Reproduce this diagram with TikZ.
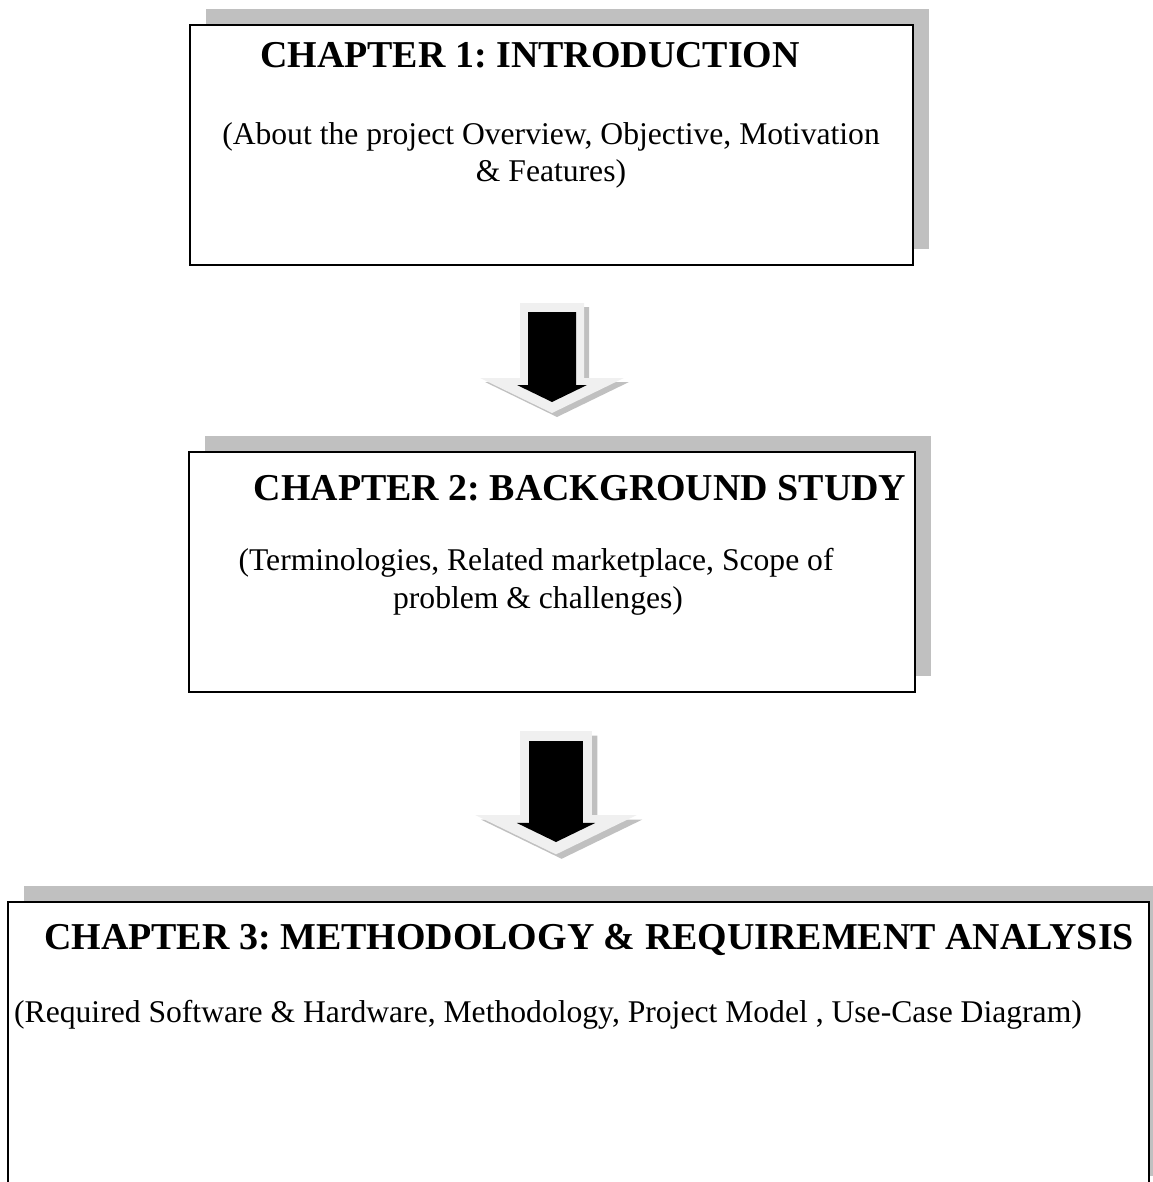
\documentclass[tikz,border=0pt]{standalone}
\usepackage{fontspec}
\setmainfont{Liberation Serif}
\usetikzlibrary{positioning,shadows}
\definecolor{shadegray}{RGB}{192,192,192}
\definecolor{rimgray}{RGB}{240,240,240}
\frenchspacing
\tikzset{%
	chapbox/.style   = {draw, rectangle, line width=1.1pt, fill=white, general shadow={fill=shadegray, shadow xshift=0.32cm, shadow yshift=0.32cm}},
	chaptitle/.style = {inner sep=0pt, anchor=base, font=\bfseries\fontsize{21.6}{25}\selectfont},
	chaptext/.style  = {inner sep=0pt, anchor=base, font=\fontsize{18}{21}\selectfont},
}
\tikzset{%
	pics/downarrow/.style = {code={
		\fill[shadegray, shift={(5,4)}] (-32,-99) -- (32,-99) -- (32,-24) -- (72,-24) -- (0,11) -- (-72,-24) -- (-32,-24) -- cycle;
		\fill[rimgray] (-32,-99) -- (32,-99) -- (32,-24) -- (72,-24) -- (0,11) -- (-72,-24) -- (-32,-24) -- cycle;
		\fill[black] (-24,-90) -- (24,-90) -- (24,-17) -- (35,-17) -- (0,0) -- (-35,-17) -- (-24,-17) -- cycle;
	}},
}
\begin{document}
\begin{tikzpicture}[x=0.02cm,y=-0.02cm]
	\useasboundingbox (0,0) rectangle (1152,1182);

	\node [chapbox, minimum width=14.46cm, minimum height=4.8cm] (intro) at (551.5,145) {};
	\node [chapbox, minimum width=14.52cm, minimum height=4.8cm] (background) at (552,572) {};
	\node [chapbox, minimum width=22.82cm, minimum height=5.8cm] (method) at (578.5,1047) {};

	\node [chaptitle] (introtitle) at (530,68) {CHAPTER 1: INTRODUCTION};
	\node [chaptext] (introa) at (551,145) {(About the project Overview, Objective, Motivation};
	\node [chaptext] (introb) at (551,182) {\& Features)};

	\node [chaptitle] (backtitle) at (580,500) {CHAPTER 2: BACKGROUND STUDY};
	\node [chaptext] (backa) at (536,570) {(Terminologies, Related marketplace, Scope of};
	\node [chaptext] (backb) at (538,608) {problem \& challenges)};

	\node [chaptitle] (methtitle) at (589,949) {CHAPTER 3: METHODOLOGY \& REQUIREMENT ANALYSIS};
	\node [chaptext] (metha) at (548,1022) {(Required Software \& Hardware, Methodology, Project Model , Use-Case Diagram)};

	% block arrows between the chapters
	\pic at (552,402) {downarrow};
	\pic [scale=1.12] at (556,842) {downarrow};
\end{tikzpicture}
\end{document}
